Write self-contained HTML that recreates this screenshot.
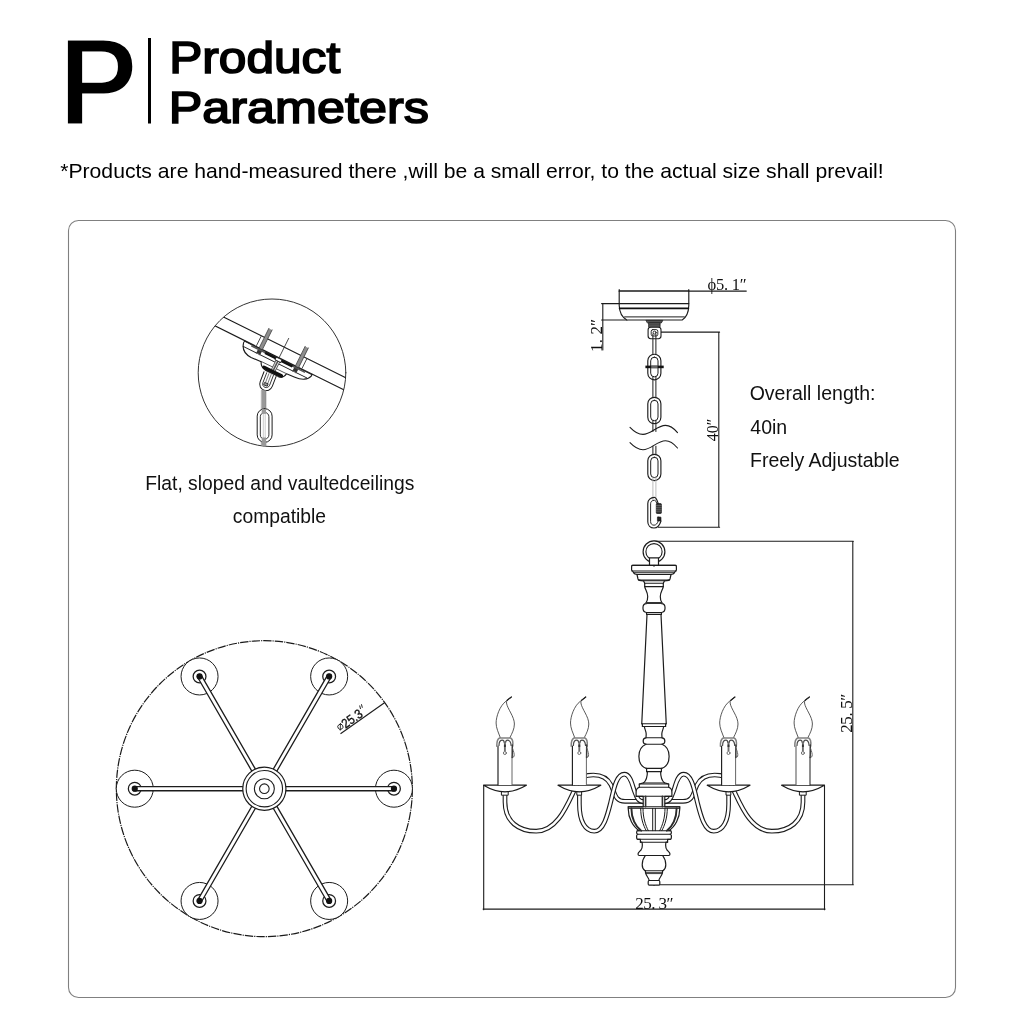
<!DOCTYPE html>
<html><head><meta charset="utf-8"><title>Product Parameters</title>
<style>
html,body{margin:0;padding:0;background:#fff;}
body{width:1024px;height:1024px;overflow:hidden;font-family:"Liberation Sans",sans-serif;}
svg{display:block;font-family:"Liberation Sans",sans-serif;}
.s{font-family:"Liberation Serif",serif;}
</style></head><body>
<svg width="1024" height="1024" viewBox="0 0 1024 1024" style="will-change:transform">
<rect width="1024" height="1024" fill="#fff"/>
<text x="58.4" y="124.6" font-size="124.5" font-weight="bold" stroke="#fff" stroke-width="3" textLength="79.3" lengthAdjust="spacingAndGlyphs">P</text>
<rect x="148" y="38" width="3" height="85.5" fill="#000"/>
<g stroke="#000" stroke-width="1.7" stroke-linejoin="miter">
<text x="169.2" y="72.6" font-size="45" textLength="171" lengthAdjust="spacingAndGlyphs">Product</text>
<text x="168.8" y="122.8" font-size="45" textLength="260" lengthAdjust="spacingAndGlyphs">Parameters</text>
</g>
<text x="60.2" y="178.3" font-size="21" textLength="823.5" lengthAdjust="spacingAndGlyphs">*Products are hand-measured there ,will be a small error, to the actual size shall prevail!</text>
<rect x="68.5" y="220.5" width="887" height="777" rx="10" ry="10" fill="none" stroke="#808080" stroke-width="1.1"/>
<g font-size="19.5" fill="#111">
<text x="279.8" y="489.5" text-anchor="middle" font-size="19.3">Flat, sloped and vaultedceilings</text>
<text x="279.4" y="522.6" text-anchor="middle" font-size="19.3">compatible</text>
<text x="749.7" y="399.9" >Overall length:</text>
<text x="750.3" y="433.5">40in</text>
<text x="750" y="467">Freely Adjustable</text>
</g>
<clipPath id="cc"><circle cx="272.0" cy="372.8" r="73.8"/></clipPath>
<g fill="none" stroke="#1c1c1c" stroke-width="1.1" stroke-linecap="round" stroke-linejoin="round">
<circle cx="272.0" cy="372.8" r="73.8" stroke="#333" stroke-width="1"/>
<g clip-path="url(#cc)">
<g transform="translate(278,357.2) rotate(26.4)">
<path d="M-36.6,0.3 C-37.6,1 -37.6,2 -37,3.2 C-35.5,9 -31,12 -24,12.2 L-13,11.6 C-12,14.5 -9,17 -5,17.2 L9,17.2 C12.5,17 14.5,14.5 15,11 L24,10.4 C31,10.2 37,7 38.2,2.2 L38.2,0.3" fill="#fff" stroke-width="1.15"/>
<path d="M-36.6,0.6 L38,0.6" stroke-width="0.9"/>
<path d="M-36,5.8 L35,5.8" stroke-width="0.9"/>
<path d="M-13,11.3 L15,11" stroke-width="0.8" stroke="#444"/>
</g>
<path d="M180,295.40 L380,394.70 M180,308.53 L380,407.83" stroke-width="1.15"/>
<g transform="translate(278,357.2) rotate(26.4)">
<path d="M-19.2,-21.8 L-19.2,6" stroke="#8e8e8e" stroke-width="3.4" stroke-linecap="butt"/>
<path d="M-21.0,-21.8 L-21.0,6 M-17.4,-21.8 L-17.4,6" stroke="#444" stroke-width="0.8"/>
<path d="M-19.2,0 L-19.2,5.5" stroke="#333" stroke-width="3.8" stroke-linecap="butt"/>
<path d="M-24.4,-11 L-24.4,-1" stroke="#333" stroke-width="0.8"/>
<path d="M21.3,-21.8 L21.3,6" stroke="#8e8e8e" stroke-width="3.4" stroke-linecap="butt"/>
<path d="M19.5,-21.8 L19.5,6 M23.1,-21.8 L23.1,6" stroke="#444" stroke-width="0.8"/>
<path d="M21.3,0 L21.3,5.5" stroke="#333" stroke-width="3.8" stroke-linecap="butt"/>
<path d="M26.5,-11 L26.5,-1" stroke="#333" stroke-width="0.8"/>
<path d="M-29,1.6 L31,1.6" stroke="#555" stroke-width="1.5" stroke-linecap="butt"/>
<path d="M-13.5,1.8 L17,1.8" stroke="#111" stroke-width="2.6" stroke-linecap="butt"/>
<path d="M1.2,-21.6 L1.2,1" stroke="#333" stroke-width="0.8"/>
<path d="M1.6,1 L1.6,14" stroke="#555" stroke-width="5" stroke-linecap="butt"/>
<path d="M0.4,1 L0.4,14 M2.8,1 L2.8,14" stroke="#eee" stroke-width="0.8" stroke-linecap="butt"/>
<rect x="-1.6" y="0.6" width="6.4" height="3" fill="#fff" stroke="#222" stroke-width="0.9"/>
<path d="M-8.2,15.2 L11.4,15.2" stroke="#111" stroke-width="3.4" stroke-linecap="round"/>
</g>
<g transform="translate(267.2,381.5) rotate(21)">
<path d="M-6.5,-8 L-6.5,2.5 C-6.5,11.5 6.5,11.5 6.5,2.5 L6.5,-8" fill="#fff" stroke-width="1"/>
<path d="M-3.6,-8 L-3.6,2.5 C-3.6,7.5 3.6,7.5 3.6,2.5 L3.6,-8" stroke-width="0.8"/>
<path d="M-1.2,-8 L-1.2,1 M1.2,-8 L1.2,1" stroke-width="0.7" stroke="#555"/>
<rect x="-1.7" y="1.8" width="3.4" height="2.6" stroke-width="0.8" fill="#999"/>
</g>
<rect x="261.7" y="390.3" width="4.3" height="57" fill="#999" stroke="#777" stroke-width="0.5"/>
<rect x="257.2" y="408.7" width="14.9" height="33.6" rx="7.4" ry="7.4" fill="#fff" stroke-width="1"/>
<rect x="260.3" y="412.4" width="8.6" height="26.8" rx="4.3" ry="4.3" fill="#fff" stroke-width="0.9"/>
<path d="M263.3,414 L263.3,438 M265.2,414 L265.2,438" stroke="#aaa" stroke-width="0.6"/>
<rect x="261.7" y="408.9" width="4.3" height="5" fill="#999" stroke="none"/>
<rect x="261.7" y="437.5" width="4.3" height="10" fill="#999" stroke="none"/>
</g>
</g>
<g fill="none" stroke="#1c1c1c" stroke-width="1.15" stroke-linecap="round" stroke-linejoin="round">
<path d="M619.2,289.6 L619.2,291.1 M688.8,289.6 L688.8,291.1 M619.2,291.1 L746.3,291.1" stroke-width="1.1"/>
<path d="M601.6,303.6 L621,303.6 M601.6,320 L627,320 M602.8,303.6 L602.8,350" stroke-width="1.1"/>
<path d="M657,332.1 L719.6,332.1 M718.8,332.1 L718.8,527.3 M658.5,527.3 L719.6,527.3" stroke-width="1.1"/>
<path d="M619.2,291.1 L619.2,305.5 C619.4,312 622.5,317.5 626.8,320 L682.2,320 C686.2,317.5 688.6,312 688.8,305.5 L688.8,291.1" fill="#fff"/>
<path d="M619.2,303.6 L688.8,303.6 M619.2,291.1 L688.8,291.1" stroke-width="1.1"/>
<path d="M619.6,308.3 L688.4,308.3" stroke="#111" stroke-width="1.7"/>
<path d="M624.6,316.9 L684.4,316.9" stroke-width="1"/>
<path d="M646.3,320.4 L662.8,320.4 L661.3,323 L647.8,323 Z" fill="#555" stroke-width="0.8"/>
<rect x="649" y="323" width="11" height="4.2" fill="#777" stroke="#222" stroke-width="0.8"/>
<path d="M649,324.4 L660,324.4 M649,325.8 L660,325.8" stroke="#222" stroke-width="0.6"/>
<rect x="648.1" y="327.2" width="12.9" height="11.5" rx="2.6" ry="2.6" fill="#fff" stroke-width="1.1"/>
<rect x="651.2" y="329.6" width="6.6" height="6.4" rx="1.6" ry="1.6" fill="#fff" stroke-width="0.9"/>
<circle cx="654.6" cy="332.6" r="1.5" stroke-width="0.9"/>
<path d="M652.9,334 L652.9,357 M655.9,334 L655.9,357" stroke="#1c1c1c" stroke-width="1.0"/>
<rect x="647.8" y="354.2" width="13.1" height="25.600000000000023" rx="6.5" ry="6.5" fill="#fff" stroke-width="1.15"/>
<rect x="650.7" y="357.2" width="7.3" height="19.600000000000023" rx="3.6" ry="3.6" fill="#fff" stroke-width="1.0"/>
<path d="M652.9,376.8 L652.9,400 M655.9,376.8 L655.9,400" stroke="#1c1c1c" stroke-width="1.0"/>
<rect x="647.8" y="397.3" width="13.1" height="26.399999999999977" rx="6.5" ry="6.5" fill="#fff" stroke-width="1.15"/>
<rect x="650.7" y="400.3" width="7.3" height="20.399999999999977" rx="3.6" ry="3.6" fill="#fff" stroke-width="1.0"/>
<path d="M652.9,420.7 L652.9,431.5 M655.9,420.7 L655.9,431.5" stroke="#1c1c1c" stroke-width="1.0"/>
<path d="M652.9,446.2 L652.9,457 M655.9,446.2 L655.9,457" stroke="#1c1c1c" stroke-width="1.0"/>
<rect x="647.8" y="454.3" width="13.1" height="26.30000000000001" rx="6.5" ry="6.5" fill="#fff" stroke-width="1.15"/>
<rect x="650.7" y="457.3" width="7.3" height="20.30000000000001" rx="3.6" ry="3.6" fill="#fff" stroke-width="1.0"/>
<path d="M652.9,477.6 L652.9,500 M655.9,477.6 L655.9,500" stroke="#aaa" stroke-width="0.8"/>
<path d="M645.4,366.9 L663.7,366.9" stroke="#111" stroke-width="2.6" stroke-linecap="butt"/>
<path d="M651.2,366.9 L657.6,366.9" stroke="#666" stroke-width="2.6" stroke-linecap="butt"/>
<path d="M630,427.3 C634,431.5 638,434.4 643,434.4 C651,434.4 657,425.4 665.5,425.4 C670.5,425.4 674,428.5 677.5,432.6" stroke-width="1.1"/>
<path d="M630,442.7 C634,446.9 638,449.79999999999995 643,449.79999999999995 C651,449.79999999999995 657,440.79999999999995 665.5,440.79999999999995 C670.5,440.79999999999995 674,443.9 677.5,448.0" stroke-width="1.1"/>
<path d="M658.2,503.5 C657,499.5 655.8,497.4 654.4,497.4 C650.5,497.4 647.8,500 647.8,503.5 L647.8,521.8 C647.8,525.5 650.4,528 654,528 C657.2,528 659.6,525.5 661,521" stroke-width="1.15"/>
<path d="M656.6,503 C656,501 655.4,500.3 654.4,500.3 C652,500.3 650.6,501.6 650.6,503.8 L650.6,521.6 C650.6,523.8 652,525.2 654,525.2 C656,525.2 657.4,523.6 658.2,521" stroke-width="0.95"/>
<rect x="656.3" y="503.6" width="5.1" height="9.9" rx="0.8" fill="#333" stroke="#111" stroke-width="0.7"/>
<path d="M656.3,505.5 L661.4,505.5 M656.3,507.4 L661.4,507.4 M656.3,509.3 L661.4,509.3 M656.3,511.2 L661.4,511.2" stroke="#888" stroke-width="0.5"/>
<rect x="657.4" y="517" width="3.6" height="4" rx="0.6" fill="#222" stroke="#111" stroke-width="0.6"/>
</g>
<g class="s" fill="#111" font-family="Liberation Serif">
<text x="707.6" y="290.4" font-size="16.5" textLength="39" lengthAdjust="spacing">ϕ5. 1″</text>
<text transform="translate(602.2,335.4) rotate(-90)" x="0" y="0" font-size="17" text-anchor="middle" textLength="33" lengthAdjust="spacing">1. 2″</text>
<text transform="translate(717.6,430) rotate(-90)" x="0" y="0" font-size="17" text-anchor="middle" textLength="22.5" lengthAdjust="spacingAndGlyphs">40″</text>
</g>
<g fill="none" stroke="#1c1c1c" stroke-width="1.2" stroke-linecap="round" stroke-linejoin="round">
<path d="M654,541.3 L853.4,541.3 M852.8,541.3 L852.8,884.8 M659.5,884.8 L853.4,884.8" stroke-width="1.1"/>
<path d="M483.7,785.2 L483.7,909.7 M824.5,785.2 L824.5,909.7 M483.1,909.1 L825.1,909.1" stroke-width="1.1"/>
<path d="M505,794 L505,802 C505,822 519,831.2 536.2,831.2 C556,831.2 566,808 573.5,792 C577,784 580,776.5 588,775.4 C598,774 606.5,776 611,785 C615,793.5 615,801.3 625,801.3 L644,801.3" stroke="#1c1c1c" stroke-width="4.7" stroke-linecap="butt"/>
<path d="M505,794 L505,802 C505,822 519,831.2 536.2,831.2 C556,831.2 566,808 573.5,792 C577,784 580,776.5 588,775.4 C598,774 606.5,776 611,785 C615,793.5 615,801.3 625,801.3 L644,801.3" stroke="#fff" stroke-width="2.5" stroke-linecap="butt"/>
<path d="M505,794 L505,802 C505,822 519,831.2 536.2,831.2 C556,831.2 566,808 573.5,792 C577,784 580,776.5 588,775.4 C598,774 606.5,776 611,785 C615,793.5 615,801.3 625,801.3 L644,801.3" transform="translate(1308.0,0) scale(-1,1)" stroke="#1c1c1c" stroke-width="4.7" stroke-linecap="butt"/>
<path d="M505,794 L505,802 C505,822 519,831.2 536.2,831.2 C556,831.2 566,808 573.5,792 C577,784 580,776.5 588,775.4 C598,774 606.5,776 611,785 C615,793.5 615,801.3 625,801.3 L644,801.3" transform="translate(1308.0,0) scale(-1,1)" stroke="#fff" stroke-width="2.5" stroke-linecap="butt"/>
<path d="M579.4,794 L579.4,804 C579.4,821 585,831.2 594.3,831.2 C603.5,831.2 607.5,815 610.5,803 C613.5,791 616,774.2 624.3,774.2 C631,774.2 632.5,787 635,792.5 C637,798.5 639,801.8 644,801.8" stroke="#1c1c1c" stroke-width="4.7" stroke-linecap="butt"/>
<path d="M579.4,794 L579.4,804 C579.4,821 585,831.2 594.3,831.2 C603.5,831.2 607.5,815 610.5,803 C613.5,791 616,774.2 624.3,774.2 C631,774.2 632.5,787 635,792.5 C637,798.5 639,801.8 644,801.8" stroke="#fff" stroke-width="2.5" stroke-linecap="butt"/>
<path d="M579.4,794 L579.4,804 C579.4,821 585,831.2 594.3,831.2 C603.5,831.2 607.5,815 610.5,803 C613.5,791 616,774.2 624.3,774.2 C631,774.2 632.5,787 635,792.5 C637,798.5 639,801.8 644,801.8" transform="translate(1308.0,0) scale(-1,1)" stroke="#1c1c1c" stroke-width="4.7" stroke-linecap="butt"/>
<path d="M579.4,794 L579.4,804 C579.4,821 585,831.2 594.3,831.2 C603.5,831.2 607.5,815 610.5,803 C613.5,791 616,774.2 624.3,774.2 C631,774.2 632.5,787 635,792.5 C637,798.5 639,801.8 644,801.8" transform="translate(1308.0,0) scale(-1,1)" stroke="#fff" stroke-width="2.5" stroke-linecap="butt"/>
<circle cx="654.0" cy="551.7" r="10.9" fill="#fff"/>
<circle cx="654.0" cy="551.7" r="8.1" fill="#fff" stroke-width="1.1"/>
<rect x="649.5" y="557.8" width="9" height="8" fill="#fff"/>
<path d="M4.5,565.4 L21.2,565.4 Q22.4,565.4 22.4,566.6 L22.4,569.8 Q22.4,571 21.3,571.2 L20.4,572.7 Q19.6,574.4 17,574.5 L16,579 Q15.5,580.8 10.5,580.8 L9.3,583.2 L9.3,586.6 C8.6,590 6.3,592 6.3,596.4 C6.3,599 6.9,601 7.7,602.3 L7.7,603.7 C12.2,603.9 12.2,612.3 7.5,612.5 L7.4,614.5 L7.0,614.5 L12.25,723.8 L11.6,723.8 L11.6,726.5 L9.6,726.5 C9.6,729 7.8,731 7.8,734 L8,737.8 C11.8,738 11.8,744 8,744.2 C17.5,748 17.5,765 7.8,768.4 L7.4,768.4 L7.4,771.6 L6.6,771.6 C6.6,778 8,781 10.5,782.9 L14.7,784 L14.7,787.2 C17,788 17.9,790 17.9,792 L17.9,796.3 L10.8,796.3 L10.8,806.8 L25.8,806.8 L25.8,808.4 C25.8,818 21,827 14.6,830.7 L16.2,830.7 Q17.4,830.7 17.4,832.4 Q17.4,834.2 16.2,834.2 Q17.4,834.2 17.4,836.7 Q17.4,839.3 16.2,839.3 L13.6,839.3 L13.6,842.2 L12,842.2 C11.4,845 11.6,848 13,850 C14.5,851.6 16,852.5 16,854 Q16,855.5 14.6,855.5 L8.6,855.5 C11,858.5 11.8,861.5 11.8,864.8 C11.8,867.5 10.8,869.5 9,870.7 L8.5,870.7 L8.5,872.7 C7.6,876.5 5.4,877.5 4.8,880.5 L4.7,880.5 Q5.8,880.5 5.8,881.7 L5.8,884 Q5.8,885.2 4.7,885.2 L0,885.2 L0,565.4 Z" transform="translate(654.0,0) scale(1,1)" fill="#fff" stroke="none"/>
<path d="M4.5,565.4 L21.2,565.4 Q22.4,565.4 22.4,566.6 L22.4,569.8 Q22.4,571 21.3,571.2 L20.4,572.7 Q19.6,574.4 17,574.5 L16,579 Q15.5,580.8 10.5,580.8 L9.3,583.2 L9.3,586.6 C8.6,590 6.3,592 6.3,596.4 C6.3,599 6.9,601 7.7,602.3 L7.7,603.7 C12.2,603.9 12.2,612.3 7.5,612.5 L7.4,614.5 L7.0,614.5 L12.25,723.8 L11.6,723.8 L11.6,726.5 L9.6,726.5 C9.6,729 7.8,731 7.8,734 L8,737.8 C11.8,738 11.8,744 8,744.2 C17.5,748 17.5,765 7.8,768.4 L7.4,768.4 L7.4,771.6 L6.6,771.6 C6.6,778 8,781 10.5,782.9 L14.7,784 L14.7,787.2 C17,788 17.9,790 17.9,792 L17.9,796.3 L10.8,796.3 L10.8,806.8 L25.8,806.8 L25.8,808.4 C25.8,818 21,827 14.6,830.7 L16.2,830.7 Q17.4,830.7 17.4,832.4 Q17.4,834.2 16.2,834.2 Q17.4,834.2 17.4,836.7 Q17.4,839.3 16.2,839.3 L13.6,839.3 L13.6,842.2 L12,842.2 C11.4,845 11.6,848 13,850 C14.5,851.6 16,852.5 16,854 Q16,855.5 14.6,855.5 L8.6,855.5 C11,858.5 11.8,861.5 11.8,864.8 C11.8,867.5 10.8,869.5 9,870.7 L8.5,870.7 L8.5,872.7 C7.6,876.5 5.4,877.5 4.8,880.5 L4.7,880.5 Q5.8,880.5 5.8,881.7 L5.8,884 Q5.8,885.2 4.7,885.2 L0,885.2 L0,565.4 Z" transform="translate(654.0,0) scale(-1,1)" fill="#fff" stroke="none"/>
<path d="M4.5,565.4 L21.2,565.4 Q22.4,565.4 22.4,566.6 L22.4,569.8 Q22.4,571 21.3,571.2 L20.4,572.7 Q19.6,574.4 17,574.5 L16,579 Q15.5,580.8 10.5,580.8 L9.3,583.2 L9.3,586.6 C8.6,590 6.3,592 6.3,596.4 C6.3,599 6.9,601 7.7,602.3 L7.7,603.7 C12.2,603.9 12.2,612.3 7.5,612.5 L7.4,614.5 L7.0,614.5 L12.25,723.8 L11.6,723.8 L11.6,726.5 L9.6,726.5 C9.6,729 7.8,731 7.8,734 L8,737.8 C11.8,738 11.8,744 8,744.2 C17.5,748 17.5,765 7.8,768.4 L7.4,768.4 L7.4,771.6 L6.6,771.6 C6.6,778 8,781 10.5,782.9 L14.7,784 L14.7,787.2 C17,788 17.9,790 17.9,792 L17.9,796.3 L10.8,796.3 L10.8,806.8 L25.8,806.8 L25.8,808.4 C25.8,818 21,827 14.6,830.7 L16.2,830.7 Q17.4,830.7 17.4,832.4 Q17.4,834.2 16.2,834.2 Q17.4,834.2 17.4,836.7 Q17.4,839.3 16.2,839.3 L13.6,839.3 L13.6,842.2 L12,842.2 C11.4,845 11.6,848 13,850 C14.5,851.6 16,852.5 16,854 Q16,855.5 14.6,855.5 L8.6,855.5 C11,858.5 11.8,861.5 11.8,864.8 C11.8,867.5 10.8,869.5 9,870.7 L8.5,870.7 L8.5,872.7 C7.6,876.5 5.4,877.5 4.8,880.5 L4.7,880.5 Q5.8,880.5 5.8,881.7 L5.8,884 Q5.8,885.2 4.7,885.2 L0,885.2 L0,565.4 Z" transform="translate(654.0,0) scale(1,1)"/>
<path d="M4.5,565.4 L21.2,565.4 Q22.4,565.4 22.4,566.6 L22.4,569.8 Q22.4,571 21.3,571.2 L20.4,572.7 Q19.6,574.4 17,574.5 L16,579 Q15.5,580.8 10.5,580.8 L9.3,583.2 L9.3,586.6 C8.6,590 6.3,592 6.3,596.4 C6.3,599 6.9,601 7.7,602.3 L7.7,603.7 C12.2,603.9 12.2,612.3 7.5,612.5 L7.4,614.5 L7.0,614.5 L12.25,723.8 L11.6,723.8 L11.6,726.5 L9.6,726.5 C9.6,729 7.8,731 7.8,734 L8,737.8 C11.8,738 11.8,744 8,744.2 C17.5,748 17.5,765 7.8,768.4 L7.4,768.4 L7.4,771.6 L6.6,771.6 C6.6,778 8,781 10.5,782.9 L14.7,784 L14.7,787.2 C17,788 17.9,790 17.9,792 L17.9,796.3 L10.8,796.3 L10.8,806.8 L25.8,806.8 L25.8,808.4 C25.8,818 21,827 14.6,830.7 L16.2,830.7 Q17.4,830.7 17.4,832.4 Q17.4,834.2 16.2,834.2 Q17.4,834.2 17.4,836.7 Q17.4,839.3 16.2,839.3 L13.6,839.3 L13.6,842.2 L12,842.2 C11.4,845 11.6,848 13,850 C14.5,851.6 16,852.5 16,854 Q16,855.5 14.6,855.5 L8.6,855.5 C11,858.5 11.8,861.5 11.8,864.8 C11.8,867.5 10.8,869.5 9,870.7 L8.5,870.7 L8.5,872.7 C7.6,876.5 5.4,877.5 4.8,880.5 L4.7,880.5 Q5.8,880.5 5.8,881.7 L5.8,884 Q5.8,885.2 4.7,885.2 L0,885.2 L0,565.4 Z" transform="translate(654.0,0) scale(-1,1)"/>
<path d="M654.0,566.4 L654.0,884.4" stroke="#fff" stroke-width="2.2" stroke-linecap="butt"/>
<path d="M632.0,565.4 L676.0,565.4" stroke-width="1.1" stroke="#1c1c1c"/>
<path d="M632.0,571 L676.0,571" stroke-width="1.1" stroke="#1c1c1c"/>
<path d="M633.7,572.7 L674.3,572.7" stroke-width="1.1" stroke="#1c1c1c"/>
<path d="M637.0,574.5 L671.0,574.5" stroke-width="1.1" stroke="#1c1c1c"/>
<path d="M638.4,580 L669.6,580" stroke-width="1.1" stroke="#1c1c1c"/>
<path d="M643.5,580.8 L664.5,580.8" stroke-width="1.1" stroke="#1c1c1c"/>
<path d="M644.7,583.2 L663.3,583.2" stroke-width="1.1" stroke="#1c1c1c"/>
<path d="M644.7,586.6 L663.3,586.6" stroke-width="1.1" stroke="#1c1c1c"/>
<path d="M646.3,603 L661.7,603" stroke-width="2.0" stroke="#333"/>
<path d="M646.5,612.6 L661.5,612.6" stroke-width="1.1" stroke="#1c1c1c"/>
<path d="M646.7,614.5 L661.3,614.5" stroke-width="1.1" stroke="#1c1c1c"/>
<path d="M641.8,723.8 L666.2,723.8" stroke-width="1.1" stroke="#1c1c1c"/>
<path d="M642.4,726.5 L665.6,726.5" stroke-width="1.1" stroke="#1c1c1c"/>
<path d="M646.0,737.8 L662.0,737.8" stroke-width="1.1" stroke="#1c1c1c"/>
<path d="M646.0,744.2 L662.0,744.2" stroke-width="1.1" stroke="#1c1c1c"/>
<path d="M646.3,768.4 L661.7,768.4" stroke-width="1.1" stroke="#1c1c1c"/>
<path d="M646.6,771.6 L661.4,771.6" stroke-width="1.1" stroke="#1c1c1c"/>
<path d="M643.5,782.9 L664.5,782.9" stroke-width="0.9" stroke="#1c1c1c"/>
<path d="M639.3,784 L668.7,784" stroke-width="1.1" stroke="#1c1c1c"/>
<path d="M639.3,787.2 L668.7,787.2" stroke-width="1.1" stroke="#1c1c1c"/>
<path d="M636.1,796.3 L671.9,796.3" stroke-width="1.1" stroke="#1c1c1c"/>
<path d="M628.2,806.8 L679.8,806.8" stroke-width="1.1" stroke="#1c1c1c"/>
<path d="M628.4,808.4 L679.6,808.4" stroke-width="0.9" stroke="#1c1c1c"/>
<path d="M637.6,830.7 L670.4,830.7" stroke-width="1.1" stroke="#1c1c1c"/>
<path d="M637.6,834.2 L670.4,834.2" stroke-width="1.1" stroke="#1c1c1c"/>
<path d="M637.6,839.3 L670.4,839.3" stroke-width="1.1" stroke="#1c1c1c"/>
<path d="M640.4,842.2 L667.6,842.2" stroke-width="1.1" stroke="#1c1c1c"/>
<path d="M639.4,855.5 L668.6,855.5" stroke-width="1.1" stroke="#1c1c1c"/>
<path d="M645.2,870.7 L662.8,870.7" stroke-width="1.1" stroke="#1c1c1c"/>
<path d="M645.6,872.7 L662.4,872.7" stroke-width="1.1" stroke="#1c1c1c"/>
<path d="M646.0,873.6 L662.0,873.6" stroke-width="0.8" stroke="#1c1c1c"/>
<path d="M649.0,880.5 L659.0,880.5" stroke-width="1.1" stroke="#1c1c1c"/>
<path d="M662.4,796.3 L662.4,806.8" stroke-width="1.6" stroke="#333"/>
<path d="M645.6,796.3 L645.6,806.8" stroke-width="1.6" stroke="#333"/>
<path d="M655.3,808.4 L655.3,830.7" stroke-width="1"/>
<path d="M665.0,808.4 C665.0,818 662.6,825 659.7,830.7 M667.3,808.4 C667.3,818 664.8,825 661.8,830.7" stroke-width="1"/>
<path d="M676.6,808.4 C676.6,818 672.6,826.5 666.8,830.7" stroke-width="1.9" stroke="#2a2a2a"/>
<path d="M652.7,808.4 L652.7,830.7" stroke-width="1"/>
<path d="M643.0,808.4 C643.0,818 645.4,825 648.3,830.7 M640.7,808.4 C640.7,818 643.2,825 646.2,830.7" stroke-width="1"/>
<path d="M631.4,808.4 C631.4,818 635.4,826.5 641.2,830.7" stroke-width="1.9" stroke="#2a2a2a"/>
</g>
<g fill="none" stroke="#1c1c1c" stroke-width="1.15" stroke-linecap="round" stroke-linejoin="round">
<rect x="501.8" y="791.4" width="6.4" height="3.8" fill="#fff" stroke-width="1"/>
<path d="M483.6,785.2 L526.4,785.2 C519,789.6 512,791.8 505,791.8 C498,791.8 491,789.6 483.6,785.2 Z" fill="#fff" stroke-width="1.2"/>
<rect x="498" y="745" width="14" height="40" fill="#fff" stroke="none"/>
<path d="M498,746 L498,785" stroke="#1c1c1c" stroke-width="1.15"/>
<path d="M512,757 L512,785" stroke="#666" stroke-width="1.0"/>
<path d="M500.3,737.6 C498.4,732.5 496.1,728 496.1,723 C496.1,717 499.5,706 506,701.2 L511.4,697 C508,699.4 506.2,700.6 506.5,703 C507.4,709 514.4,716.5 514.4,724 C514.4,729 512,733.5 509.9,737.6" stroke="#3a3a3a" stroke-width="0.85" fill="#fff"/>
<path d="M507.2,700.2 L511.4,697" stroke="#222" stroke-width="1.2"/>
<path d="M496.8,746.2 C496.7,742 497.5,739 499.6,738 L510.6,738 C512.6,739 513.2,742 512.7,746.2" stroke="#808080" stroke-width="1.5"/>
<path d="M499,745.5 C499,741.6 500.8,740.2 502.4,740.2 C503.5,740.2 504.1,741 504.3,742.6 M505.5,742.6 C505.7,741 506.4,740.2 507.5,740.2 C509.4,740.2 510.9,741.6 511.1,745.5" stroke="#4a4a4a" stroke-width="1.2"/>
<path d="M504.9,741.8 L504.9,751.2" stroke="#6e6e6e" stroke-width="1.9" stroke-linecap="butt"/>
<path d="M504.9,744.5 L504.9,747" stroke="#333" stroke-width="1.9" stroke-linecap="butt"/>
<circle cx="504.9" cy="753" r="1.5" stroke="#6e6e6e" stroke-width="1" fill="#fff"/>
<path d="M512.3,745 L512.2,757.5" stroke="#3a3a3a" stroke-width="1.5"/>
<path d="M512.6,748.5 C513.6,751.5 514.5,754 514.1,756 C513.7,757.6 512.5,757.5 512.3,756" stroke="#555" stroke-width="0.9"/>
<path d="M499.4,752 C(500,),754 500.2,756 499.4,757" stroke="#888" stroke-width="0.8"/>
<rect x="577.1999999999999" y="791.4" width="4.4" height="3.8" fill="#fff" stroke-width="1"/>
<path d="M558.0,785.2 L600.8,785.2 C593.4,789.6 586.4,791.8 579.4,791.8 C572.4,791.8 565.4,789.6 558.0,785.2 Z" fill="#fff" stroke-width="1.2"/>
<rect x="572.4" y="745" width="14" height="40" fill="#fff" stroke="none"/>
<path d="M572.4,746 L572.4,785" stroke="#1c1c1c" stroke-width="1.15"/>
<path d="M586.4,757 L586.4,785" stroke="#666" stroke-width="1.0"/>
<path d="M574.6999999999999,737.6 C572.8,732.5 570.5,728 570.5,723 C570.5,717 573.9,706 580.4,701.2 L585.8,697 C582.4,699.4 580.6,700.6 580.9,703 C581.8,709 588.8,716.5 588.8,724 C588.8,729 586.4,733.5 584.3,737.6" stroke="#3a3a3a" stroke-width="0.85" fill="#fff"/>
<path d="M581.6,700.2 L585.8,697" stroke="#222" stroke-width="1.2"/>
<path d="M571.1999999999999,746.2 C571.1,742 571.9,739 574.0,738 L585.0,738 C587.0,739 587.6,742 587.1,746.2" stroke="#808080" stroke-width="1.5"/>
<path d="M573.4,745.5 C573.4,741.6 575.1999999999999,740.2 576.8,740.2 C577.9,740.2 578.5,741 578.6999999999999,742.6 M579.9,742.6 C580.1,741 580.8,740.2 581.9,740.2 C583.8,740.2 585.3,741.6 585.5,745.5" stroke="#4a4a4a" stroke-width="1.2"/>
<path d="M579.3,741.8 L579.3,751.2" stroke="#6e6e6e" stroke-width="1.9" stroke-linecap="butt"/>
<path d="M579.3,744.5 L579.3,747" stroke="#333" stroke-width="1.9" stroke-linecap="butt"/>
<circle cx="579.3" cy="753" r="1.5" stroke="#6e6e6e" stroke-width="1" fill="#fff"/>
<path d="M586.6999999999999,745 L586.6,757.5" stroke="#3a3a3a" stroke-width="1.5"/>
<path d="M587.0,748.5 C588.0,751.5 588.9,754 588.5,756 C588.1,757.6 586.9,757.5 586.6999999999999,756" stroke="#555" stroke-width="0.9"/>
<path d="M573.8,752 C(574.4,),754 574.6,756 573.8,757" stroke="#888" stroke-width="0.8"/>
<rect x="726.4" y="791.4" width="4.4" height="3.8" fill="#fff" stroke-width="1"/>
<path d="M707.2,785.2 L750.0,785.2 C742.6,789.6 735.6,791.8 728.6,791.8 C721.6,791.8 714.6,789.6 707.2,785.2 Z" fill="#fff" stroke-width="1.2"/>
<rect x="721.6" y="745" width="14" height="40" fill="#fff" stroke="none"/>
<path d="M721.6,746 L721.6,785" stroke="#1c1c1c" stroke-width="1.15"/>
<path d="M735.6,757 L735.6,785" stroke="#666" stroke-width="1.0"/>
<path d="M723.9,737.6 C722.0,732.5 719.7,728 719.7,723 C719.7,717 723.1,706 729.6,701.2 L735.0,697 C731.6,699.4 729.8000000000001,700.6 730.1,703 C731.0,709 738.0,716.5 738.0,724 C738.0,729 735.6,733.5 733.5,737.6" stroke="#3a3a3a" stroke-width="0.85" fill="#fff"/>
<path d="M730.8000000000001,700.2 L735.0,697" stroke="#222" stroke-width="1.2"/>
<path d="M720.4,746.2 C720.3000000000001,742 721.1,739 723.2,738 L734.2,738 C736.2,739 736.8000000000001,742 736.3000000000001,746.2" stroke="#808080" stroke-width="1.5"/>
<path d="M722.6,745.5 C722.6,741.6 724.4,740.2 726.0,740.2 C727.1,740.2 727.7,741 727.9,742.6 M729.1,742.6 C729.3000000000001,741 730.0,740.2 731.1,740.2 C733.0,740.2 734.5,741.6 734.7,745.5" stroke="#4a4a4a" stroke-width="1.2"/>
<path d="M728.5,741.8 L728.5,751.2" stroke="#6e6e6e" stroke-width="1.9" stroke-linecap="butt"/>
<path d="M728.5,744.5 L728.5,747" stroke="#333" stroke-width="1.9" stroke-linecap="butt"/>
<circle cx="728.5" cy="753" r="1.5" stroke="#6e6e6e" stroke-width="1" fill="#fff"/>
<path d="M735.9,745 L735.8000000000001,757.5" stroke="#3a3a3a" stroke-width="1.5"/>
<path d="M736.2,748.5 C737.2,751.5 738.1,754 737.7,756 C737.3000000000001,757.6 736.1,757.5 735.9,756" stroke="#555" stroke-width="0.9"/>
<path d="M723.0,752 C(723.6,),754 723.8000000000001,756 723.0,757" stroke="#888" stroke-width="0.8"/>
<rect x="799.8" y="791.4" width="6.4" height="3.8" fill="#fff" stroke-width="1"/>
<path d="M781.6,785.2 L824.4,785.2 C817,789.6 810,791.8 803,791.8 C796,791.8 789,789.6 781.6,785.2 Z" fill="#fff" stroke-width="1.2"/>
<rect x="796" y="745" width="14" height="40" fill="#fff" stroke="none"/>
<path d="M796,746 L796,785" stroke="#666" stroke-width="1.15"/>
<path d="M810,757 L810,785" stroke="#1c1c1c" stroke-width="1.0"/>
<path d="M798.3,737.6 C796.4,732.5 794.1,728 794.1,723 C794.1,717 797.5,706 804,701.2 L809.4,697 C806,699.4 804.2,700.6 804.5,703 C805.4,709 812.4,716.5 812.4,724 C812.4,729 810,733.5 807.9,737.6" stroke="#3a3a3a" stroke-width="0.85" fill="#fff"/>
<path d="M805.2,700.2 L809.4,697" stroke="#222" stroke-width="1.2"/>
<path d="M794.8,746.2 C794.7,742 795.5,739 797.6,738 L808.6,738 C810.6,739 811.2,742 810.7,746.2" stroke="#808080" stroke-width="1.5"/>
<path d="M797,745.5 C797,741.6 798.8,740.2 800.4,740.2 C801.5,740.2 802.1,741 802.3,742.6 M803.5,742.6 C803.7,741 804.4,740.2 805.5,740.2 C807.4,740.2 808.9,741.6 809.1,745.5" stroke="#4a4a4a" stroke-width="1.2"/>
<path d="M802.9,741.8 L802.9,751.2" stroke="#6e6e6e" stroke-width="1.9" stroke-linecap="butt"/>
<path d="M802.9,744.5 L802.9,747" stroke="#333" stroke-width="1.9" stroke-linecap="butt"/>
<circle cx="802.9" cy="753" r="1.5" stroke="#6e6e6e" stroke-width="1" fill="#fff"/>
<path d="M810.3,745 L810.2,757.5" stroke="#3a3a3a" stroke-width="1.5"/>
<path d="M810.6,748.5 C811.6,751.5 812.5,754 812.1,756 C811.7,757.6 810.5,757.5 810.3,756" stroke="#555" stroke-width="0.9"/>
<path d="M797.4,752 C(798,),754 798.2,756 797.4,757" stroke="#888" stroke-width="0.8"/>
</g>
<g class="s" fill="#111" font-family="Liberation Serif">
<text x="635.3" y="909" font-size="17" textLength="38.3" lengthAdjust="spacing">25. 3″</text>
<text transform="translate(852.4,713.2) rotate(-90)" x="0" y="0" font-size="17" text-anchor="middle" textLength="39.2" lengthAdjust="spacing">25. 5″</text>
</g>
<g fill="none" stroke="#1c1c1c" stroke-width="1.1" stroke-linecap="butt" stroke-linejoin="round">
<circle cx="264.35" cy="788.7" r="148.0" stroke="#1a1a1a" stroke-width="1.2" stroke-dasharray="8.4 1 1.2 1"/>
<circle cx="393.95" cy="788.70" r="18.5" fill="#fff" stroke-width="1"/>
<circle cx="393.95" cy="788.70" r="6.4" stroke-width="1.25"/>
<circle cx="329.15" cy="900.94" r="18.5" fill="#fff" stroke-width="1"/>
<circle cx="329.15" cy="900.94" r="6.4" stroke-width="1.25"/>
<circle cx="199.55" cy="900.94" r="18.5" fill="#fff" stroke-width="1"/>
<circle cx="199.55" cy="900.94" r="6.4" stroke-width="1.25"/>
<circle cx="134.75" cy="788.70" r="18.5" fill="#fff" stroke-width="1"/>
<circle cx="134.75" cy="788.70" r="6.4" stroke-width="1.25"/>
<circle cx="199.55" cy="676.46" r="18.5" fill="#fff" stroke-width="1"/>
<circle cx="199.55" cy="676.46" r="6.4" stroke-width="1.25"/>
<circle cx="329.15" cy="676.46" r="18.5" fill="#fff" stroke-width="1"/>
<circle cx="329.15" cy="676.46" r="6.4" stroke-width="1.25"/>
<path d="M264.35,788.7 L393.95,788.70" stroke="#1c1c1c" stroke-width="5.4" stroke-linecap="round"/>
<path d="M264.35,788.7 L329.15,900.94" stroke="#1c1c1c" stroke-width="5.4" stroke-linecap="round"/>
<path d="M264.35,788.7 L199.55,900.94" stroke="#1c1c1c" stroke-width="5.4" stroke-linecap="round"/>
<path d="M264.35,788.7 L134.75,788.70" stroke="#1c1c1c" stroke-width="5.4" stroke-linecap="round"/>
<path d="M264.35,788.7 L199.55,676.46" stroke="#1c1c1c" stroke-width="5.4" stroke-linecap="round"/>
<path d="M264.35,788.7 L329.15,676.46" stroke="#1c1c1c" stroke-width="5.4" stroke-linecap="round"/>
<path d="M264.35,788.7 L393.95,788.70" stroke="#fff" stroke-width="2.8" stroke-linecap="round"/>
<path d="M264.35,788.7 L329.15,900.94" stroke="#fff" stroke-width="2.8" stroke-linecap="round"/>
<path d="M264.35,788.7 L199.55,900.94" stroke="#fff" stroke-width="2.8" stroke-linecap="round"/>
<path d="M264.35,788.7 L134.75,788.70" stroke="#fff" stroke-width="2.8" stroke-linecap="round"/>
<path d="M264.35,788.7 L199.55,676.46" stroke="#fff" stroke-width="2.8" stroke-linecap="round"/>
<path d="M264.35,788.7 L329.15,676.46" stroke="#fff" stroke-width="2.8" stroke-linecap="round"/>
<circle cx="393.95" cy="788.70" r="3.1" fill="#111" stroke="none"/>
<circle cx="329.15" cy="900.94" r="3.1" fill="#111" stroke="none"/>
<circle cx="199.55" cy="900.94" r="3.1" fill="#111" stroke="none"/>
<circle cx="134.75" cy="788.70" r="3.1" fill="#111" stroke="none"/>
<circle cx="199.55" cy="676.46" r="3.1" fill="#111" stroke="none"/>
<circle cx="329.15" cy="676.46" r="3.1" fill="#111" stroke="none"/>
<circle cx="264.35" cy="788.7" r="21.6" fill="#fff" stroke-width="1.2"/>
<circle cx="264.35" cy="788.7" r="18.2" stroke-width="1.1"/>
<circle cx="264.35" cy="788.7" r="10" stroke-width="1.1"/>
<circle cx="264.35" cy="788.7" r="4.8" stroke-width="1.1"/>
<path d="M340.5,733.7 L384.5,702.7" stroke-width="1.1"/>
</g>
<g transform="translate(340.5,733.7) rotate(-35.2)" fill="#111">
<circle cx="3.9" cy="-5.7" r="2.6" fill="none" stroke="#222" stroke-width="0.9"/>
<path d="M1.6,-2.7 L6.1,-8.8" stroke="#222" stroke-width="0.8"/>
<text x="7" y="-1.2" font-size="13.2" textLength="22.2" lengthAdjust="spacingAndGlyphs" stroke="#111" stroke-width="0.35">25.3</text>
<path d="M30.6,-8.6 L31.9,-12 M32.8,-8.6 L34.1,-12" stroke="#222" stroke-width="0.9"/>
</g>
</svg>
</body></html>
